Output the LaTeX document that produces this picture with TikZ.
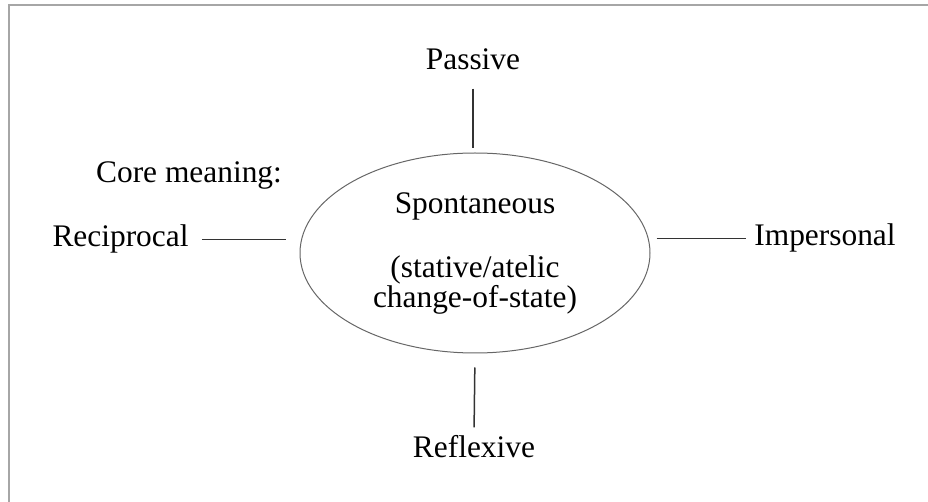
\documentclass[tikz,border=0pt]{standalone}
\usepackage{fontspec}
\setmainfont{Liberation Serif}
\usepackage{tikz}
\usetikzlibrary{shapes.geometric}
\usetikzlibrary{positioning, calc}

\begin{document}
\begin{tikzpicture}[x=0.5pt,y=-0.5pt,
		term/.style={inner sep=0pt,anchor=base,font=\fontsize{15.7pt}{15pt}\selectfont},
		link/.style={line width=0.75pt,black!80}]
			      		\useasboundingbox (0,0) rectangle (928,502);
			      		\draw[gray!70,line width=1pt] (9,502) -- (9,5) -- (928,5); % frame at top and left only
			      		
			      		\node[draw=black!60,line width=0.5pt,ellipse,minimum width=175pt,minimum height=100pt,inner sep=0pt,align=center,font=\fontsize{15.7pt}{15pt}\selectfont] (sp) at (475,253) {Spontaneous\\[17pt](stative/atelic\\change-of-state)};
			      		\node[term] (passive) at (473,70) {Passive};
			      		\node[term] (reflex) at (474,458) {Reflexive};
			      		\node[term] (recip) at (120.5,247) {Reciprocal};
			      		\node[term] (imper) at (825,246) {Impersonal};
			      		\node[term] (core) at (189,183) {Core meaning:};
			      		
			      		\draw[link,shorten <=9pt,shorten >=2pt] (passive.south) -- (passive.south |- sp.north); % vertical links
			      		\draw[link,shorten <=7pt,shorten >=4pt] (sp.south) -- (reflex.north);
			      		\draw[link,shorten <=6.5pt,shorten >=7pt] (recip.east) -- (recip.east -| sp.west); % horizontal links
			      		\draw[link,shorten <=3pt,shorten >=4pt] (imper.west -| sp.east) -- (imper.west);
			      	\end{tikzpicture}
\end{document}
